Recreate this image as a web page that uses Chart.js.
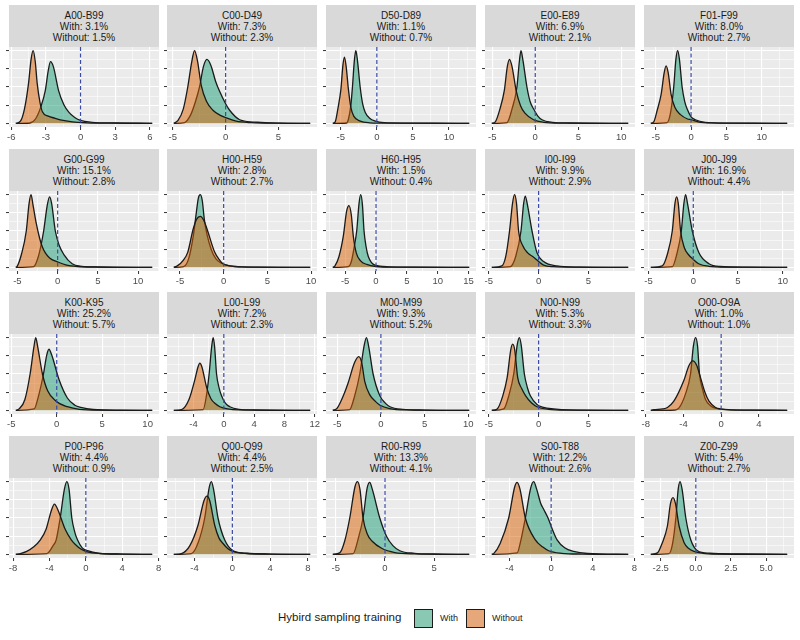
<!DOCTYPE html>
<html>
<head>
<meta charset="utf-8">
<script src="https://cdn.jsdelivr.net/npm/chart.js@4.4.1/dist/chart.umd.min.js"></script>
<style>
  body { margin: 0; width: 800px; height: 640px; background: #fff; position: relative; overflow: hidden;
         font-family: "Liberation Sans", Arial, sans-serif; }
  .strip { position: absolute; background: #D9D9D9; color: #1A1A1A; font-size: 10px; line-height: 11px;
           text-align: center; display: flex; flex-direction: column; justify-content: center; }
  .panel { position: absolute; }
  .lg-title { position: absolute; left: 278px; top: 611px; font-size: 11.5px; color: #1A1A1A; }
  .lg-key { position: absolute; top: 609px; width: 17px; height: 17px; border: 1.2px solid #1A1A1A; }
  .lg-lbl { position: absolute; top: 613px; font-size: 9px; color: #1A1A1A; }
</style>
</head>
<body>
<div id="panels"></div>
<div class="lg-title">Hybird sampling training</div>
<div class="lg-key" style="left:414px;background:#89C8B3"></div>
<div class="lg-lbl" style="left:440px">With</div>
<div class="lg-key" style="left:466px;background:#E6A77A"></div>
<div class="lg-lbl" style="left:492px">Without</div>

<script>
// ---- data (density, relative height) ----
const panelNames = ['A00-B99', 'C00-D49', 'D50-D89', 'E00-E89', 'F01-F99',
                    'G00-G99', 'H00-H59', 'H60-H95', 'I00-I99', 'J00-J99',
                    'K00-K95', 'L00-L99', 'M00-M99', 'N00-N99', 'O00-O9A',
                    'P00-P96', 'Q00-Q99', 'R00-R99', 'S00-T88', 'Z00-Z99'];
const withPct    = [3.1, 7.3, 1.1, 6.9, 8.0, 15.1, 2.8, 1.5, 9.9, 16.9,
                    25.2, 7.2, 9.3, 5.3, 1.0, 4.4, 4.4, 13.3, 12.2, 5.4];
const withoutPct = [1.5, 2.3, 0.7, 2.1, 2.7, 2.8, 2.7, 0.4, 2.9, 4.4,
                    5.7, 2.3, 5.2, 3.3, 1.0, 0.9, 2.5, 4.1, 2.6, 2.7];
const xTicks = [
  [-6, -3, 0, 3, 6], [-5, 0, 5], [-5, 0, 5, 10], [-5, 0, 5, 10], [-5, 0, 5, 10],
  [-5, 0, 5, 10], [-5, 0, 5, 10], [-5, 0, 5, 10, 15], [-5, 0, 5], [-5, 0, 5, 10],
  [-5, 0, 5, 10], [-4, 0, 4, 8, 12], [-5, 0, 5, 10], [-5, 0, 5], [-8, -4, 0, 4],
  [-8, -4, 0, 4, 8], [-4, 0, 4, 8], [-5, 0, 5], [-4, 0, 4, 8], [-2.5, 0, 2.5, 5]
];
const yGridStep = 0.25;

const withCurves = [
  [[-5.6,0],[-4.4,0.005],[-3.9,0.06],[-3.45,0.22],[-3.05,0.45],[-2.8,0.72],[-2.6,0.85],[-2.35,0.78],[-1.9,0.45],[-1.45,0.26],[-1.0,0.15],[-0.5,0.08],[0,0.04],[1.0,0.015],[3,0.005],[6.2,0]],
  [[-4.9,0],[-3.9,0.01],[-3.3,0.12],[-2.85,0.3],[-2.47,0.5],[-2.1,0.78],[-1.77,0.88],[-1.4,0.8],[-0.95,0.58],[-0.57,0.44],[0,0.27],[0.38,0.18],[1.33,0.05],[3,0.015],[5,0.004],[8,0]],
  [[-6.1,0],[-4.2,0.005],[-3.93,0.06],[-3.6,0.25],[-3.38,0.5],[-3.1,0.88],[-2.91,1.0],[-2.7,0.88],[-2.31,0.5],[-1.95,0.26],[-1.6,0.15],[-1.0,0.07],[-0.2,0.03],[1,0.01],[4,0.004],[8,0.003],[12.8,0]],
  [[-5.05,0],[-3.3,0.01],[-2.7,0.2],[-2.13,0.5],[-1.85,0.85],[-1.66,1.0],[-1.45,0.88],[-0.97,0.5],[-0.6,0.3],[-0.2,0.2],[0.3,0.1],[0.78,0.05],[2,0.015],[4,0.005],[10.8,0]],
  [[-5.7,0],[-3.4,0.01],[-2.9,0.15],[-2.46,0.5],[-2.15,0.88],[-1.9,1.0],[-1.65,0.88],[-1.27,0.5],[-0.9,0.3],[-0.57,0.2],[0,0.09],[0.6,0.05],[2,0.015],[5,0.004],[9,0.003],[13.6,0]],
  [[-5.2,0],[-3.0,0.01],[-2.4,0.15],[-1.74,0.5],[-1.3,0.85],[-1.0,0.97],[-0.75,0.88],[-0.29,0.5],[0.2,0.3],[0.75,0.18],[1.8,0.05],[3,0.015],[5,0.005],[11.75,0]],
  [[-5.7,0],[-4.6,0.01],[-4.0,0.12],[-3.45,0.45],[-3.13,0.75],[-2.9,0.95],[-2.67,1.0],[-2.45,0.92],[-2.2,0.65],[-1.9,0.45],[-1.4,0.24],[-0.9,0.12],[-0.3,0.06],[0.7,0.02],[2,0.007],[9.9,0]],
  [[-7.0,0],[-4.5,0.01],[-4.0,0.08],[-3.5,0.3],[-3.13,0.5],[-2.75,0.88],[-2.48,1.0],[-2.2,0.86],[-1.94,0.5],[-1.6,0.28],[-1.25,0.15],[-0.16,0.03],[2,0.008],[6,0.003],[15.1,0]],
  [[-4.7,0],[-2.85,0.01],[-2.3,0.15],[-1.77,0.5],[-1.5,0.88],[-1.34,0.98],[-1.15,0.88],[-0.66,0.5],[-0.16,0.2],[0.5,0.08],[1.85,0.02],[4,0.004],[9,0]],
  [[-4.75,0],[-2.35,0.01],[-1.85,0.18],[-1.34,0.5],[-1.05,0.88],[-0.86,1.0],[-0.65,0.88],[-0.11,0.5],[0.63,0.2],[1.75,0.05],[3,0.012],[6,0.004],[10.5,0]],
  [[-4.5,0],[-2.49,0.02],[-2.0,0.2],[-1.46,0.5],[-1.1,0.76],[-0.85,0.84],[-0.55,0.76],[0.26,0.42],[1.17,0.17],[2.0,0.07],[2.64,0.04],[4,0.012],[7,0.003],[10.5,0]],
  [[-6.6,0],[-2.73,0.01],[-2.3,0.2],[-1.94,0.5],[-1.6,0.88],[-1.41,1.0],[-1.22,0.88],[-0.96,0.5],[-0.6,0.3],[-0.3,0.2],[0.2,0.1],[0.79,0.05],[2,0.015],[4,0.005],[11.4,0]],
  [[-5.5,0],[-3.58,0.01],[-3.0,0.2],[-2.42,0.5],[-1.9,0.9],[-1.65,1.0],[-1.4,0.88],[-0.89,0.5],[-0.12,0.2],[0.5,0.1],[1.04,0.05],[2.5,0.015],[5,0.004],[10.1,0]],
  [[-4.7,0],[-3.5,0.02],[-3.0,0.2],[-2.5,0.5],[-2.15,0.9],[-1.93,1.0],[-1.75,0.9],[-1.43,0.5],[-1.1,0.3],[-0.83,0.2],[-0.16,0.08],[0.5,0.04],[1.5,0.02],[3,0.006],[9,0]],
  [[-7.46,0],[-4.9,0.005],[-4.49,0.03],[-3.8,0.22],[-3.25,0.5],[-2.95,0.88],[-2.72,1.0],[-2.5,0.88],[-2.3,0.5],[-1.95,0.28],[-1.66,0.15],[-1.1,0.06],[-0.6,0.03],[0.5,0.01],[3,0.004],[7,0]],
  [[-7.7,0],[-4.29,0.01],[-3.6,0.12],[-3.26,0.2],[-2.82,0.5],[-2.35,0.9],[-2.09,1.0],[-1.85,0.9],[-1.54,0.5],[-1.2,0.3],[-0.92,0.2],[-0.4,0.09],[0.18,0.05],[1.5,0.015],[4,0.004],[7.3,0]],
  [[-6.2,0],[-4.34,0.01],[-3.6,0.17],[-2.93,0.5],[-2.45,0.92],[-2.22,1.0],[-2.0,0.9],[-1.52,0.5],[-0.82,0.2],[0.07,0.05],[1.5,0.015],[4,0.004],[8.24,0]],
  [[-5.3,0],[-3.24,0.01],[-2.75,0.2],[-2.23,0.5],[-1.8,0.92],[-1.55,0.99],[-1.3,0.9],[-0.53,0.5],[0.15,0.25],[0.8,0.12],[1.5,0.05],[3,0.015],[5,0.005],[8.55,0]],
  [[-5.7,0],[-3.27,0.02],[-2.9,0.2],[-2.48,0.5],[-1.95,0.92],[-1.68,1.0],[-1.4,0.9],[-1.0,0.7],[-0.72,0.62],[-0.3,0.5],[0.1,0.35],[0.57,0.2],[1.3,0.09],[2.16,0.04],[3.5,0.012],[7.4,0]],
  [[-3.2,0],[-1.9,0.01],[-1.65,0.15],[-1.42,0.5],[-1.25,0.9],[-1.12,1.0],[-0.98,0.9],[-0.71,0.5],[-0.36,0.2],[0.12,0.05],[1,0.015],[3,0.005],[6.5,0]]
];

const withoutCurves = [
  [[-5.6,0],[-5.2,0.03],[-4.85,0.2],[-4.5,0.55],[-4.28,0.88],[-4.1,1.0],[-3.92,0.85],[-3.75,0.55],[-3.5,0.28],[-3.3,0.16],[-2.8,0.1],[-2.2,0.07],[-1.5,0.04],[-0.7,0.02],[0.5,0.008],[2,0.004],[4,0.002],[6.2,0]],
  [[-4.9,0],[-4.5,0.04],[-4.0,0.2],[-3.58,0.5],[-3.2,0.85],[-2.94,1.0],[-2.65,0.85],[-2.3,0.52],[-1.8,0.3],[-1.2,0.18],[-0.5,0.11],[0,0.08],[1,0.03],[2.5,0.01],[5,0.003],[8,0]],
  [[-6.1,0],[-5.77,0.02],[-5.4,0.2],[-4.99,0.46],[-4.7,0.8],[-4.49,0.91],[-4.25,0.78],[-3.93,0.46],[-3.6,0.22],[-3.2,0.1],[-2.3,0.03],[-1,0.008],[2,0.002],[12.8,0]],
  [[-5.05,0],[-4.65,0.02],[-4.1,0.2],[-3.6,0.45],[-3.25,0.78],[-2.99,0.88],[-2.7,0.78],[-2.2,0.44],[-1.7,0.24],[-1.2,0.14],[-0.2,0.05],[1,0.015],[3,0.004],[10.8,0]],
  [[-5.7,0],[-5.29,0.02],[-4.8,0.18],[-4.24,0.4],[-3.8,0.7],[-3.54,0.79],[-3.25,0.7],[-2.83,0.4],[-2.3,0.22],[-1.5,0.12],[-0.5,0.06],[0,0.05],[1,0.02],[3,0.006],[13.6,0]],
  [[-5.2,0],[-5.05,0.01],[-4.5,0.18],[-3.9,0.5],[-3.55,0.88],[-3.31,1.0],[-3.05,0.85],[-2.65,0.6],[-2.24,0.4],[-1.9,0.28],[-1.53,0.2],[-1.0,0.13],[0.1,0.07],[1,0.035],[2.5,0.012],[5,0.004],[11.75,0]],
  [[-5.7,0],[-5.3,0.02],[-4.6,0.1],[-4.1,0.21],[-3.5,0.52],[-3.1,0.66],[-2.67,0.7],[-2.25,0.64],[-1.8,0.49],[-1.03,0.21],[-0.46,0.1],[-0.08,0.05],[0.7,0.02],[2,0.007],[4,0.002],[9.9,0]],
  [[-7.0,0],[-6.65,0.02],[-6.0,0.15],[-5.3,0.43],[-4.75,0.78],[-4.38,0.85],[-4.0,0.72],[-3.68,0.43],[-3.2,0.2],[-2.5,0.09],[-1.5,0.04],[0,0.012],[3,0.003],[15.1,0]],
  [[-4.7,0],[-3.69,0.02],[-3.3,0.15],[-2.92,0.5],[-2.62,0.88],[-2.42,1.0],[-2.22,0.88],[-2.01,0.5],[-1.6,0.3],[-1.1,0.2],[-0.5,0.14],[0.5,0.03],[1.5,0.01],[4,0.003],[9,0]],
  [[-4.75,0],[-3.47,0.02],[-2.9,0.18],[-2.35,0.5],[-2.05,0.88],[-1.87,0.97],[-1.68,0.88],[-1.42,0.5],[-1.0,0.27],[-0.5,0.17],[-0.1,0.12],[0.6,0.05],[1.75,0.015],[4,0.004],[10.5,0]],
  [[-4.5,0],[-4.14,0.02],[-3.5,0.15],[-2.93,0.5],[-2.5,0.88],[-2.31,1.0],[-2.1,0.88],[-1.57,0.5],[-1.0,0.27],[-0.1,0.13],[1.17,0.05],[2.5,0.015],[5,0.004],[10.5,0]],
  [[-6.6,0],[-5.58,0.01],[-4.6,0.15],[-3.83,0.42],[-3.4,0.6],[-3.17,0.65],[-2.9,0.6],[-2.28,0.32],[-1.7,0.16],[-1.1,0.09],[-0.53,0.05],[0.5,0.02],[2,0.006],[11.4,0]],
  [[-5.5,0],[-5.0,0.03],[-4.3,0.2],[-3.77,0.37],[-3.0,0.66],[-2.54,0.74],[-2.2,0.66],[-1.85,0.4],[-1.3,0.22],[-0.6,0.12],[-0.1,0.07],[1,0.025],[3,0.006],[10.1,0]],
  [[-4.7,0],[-4.16,0.02],[-3.6,0.2],[-3.16,0.45],[-2.8,0.83],[-2.6,0.91],[-2.4,0.83],[-2.1,0.45],[-1.7,0.3],[-1.3,0.2],[-0.7,0.1],[-0.16,0.05],[1,0.015],[3,0.004],[9,0]],
  [[-7.46,0],[-7.14,0.01],[-6.2,0.02],[-5.7,0.04],[-5.0,0.13],[-3.96,0.41],[-3.4,0.62],[-3.0,0.68],[-2.6,0.62],[-2.19,0.45],[-1.75,0.26],[-1.31,0.13],[-0.6,0.04],[-0.07,0.02],[1,0.008],[3,0.003],[7,0]],
  [[-7.7,0],[-7.2,0.01],[-6.5,0.04],[-5.76,0.1],[-5.0,0.2],[-4.36,0.35],[-3.8,0.6],[-3.45,0.69],[-3.1,0.62],[-2.27,0.345],[-1.6,0.2],[-1.18,0.14],[-0.5,0.07],[0.18,0.035],[1.5,0.012],[4,0.004],[7.3,0]],
  [[-6.2,0],[-5.4,0.01],[-4.5,0.12],[-3.64,0.4],[-3.0,0.74],[-2.69,0.8],[-2.4,0.74],[-1.87,0.4],[-1.4,0.22],[-1.06,0.16],[-0.5,0.08],[0.07,0.04],[1.5,0.012],[4,0.004],[8.24,0]],
  [[-5.3,0],[-4.6,0.02],[-4.1,0.18],[-3.58,0.5],[-3.05,0.93],[-2.8,1.0],[-2.55,0.9],[-2.23,0.5],[-1.8,0.28],[-1.3,0.18],[-0.3,0.08],[1,0.025],[3,0.007],[8.55,0]],
  [[-5.7,0],[-5.52,0.01],[-4.9,0.15],[-4.08,0.5],[-3.5,0.93],[-3.27,0.99],[-3.0,0.9],[-2.48,0.5],[-1.52,0.2],[-0.8,0.1],[-0.24,0.05],[1,0.015],[3,0.004],[7.4,0]],
  [[-3.2,0],[-2.73,0.02],[-2.4,0.15],[-2.02,0.39],[-1.8,0.7],[-1.62,0.78],[-1.45,0.7],[-1.19,0.39],[-0.83,0.16],[-0.5,0.08],[-0.12,0.04],[0.5,0.015],[1.5,0.005],[6.5,0]]
];

// ---- styling ----
const FONT = '"Liberation Sans", Arial, sans-serif';
const WITH_FILL = 'rgba(27,158,119,0.5)';
const WITHOUT_FILL = 'rgba(217,95,2,0.5)';
const PANEL_W = 150, PANEL_H = 80, STRIP_H = 42, AXIS_H = 20, PAD = 12;

const panelBg = {
  id: 'panelBg',
  beforeDraw(c) {
    const a = c.chartArea;
    c.ctx.save();
    c.ctx.fillStyle = '#EBEBEB';
    c.ctx.fillRect(a.left, a.top, a.width, a.height);
    c.ctx.restore();
  }
};

// dashed reference line at x = 0
const zeroLine = {
  id: 'zeroLine',
  afterDatasetsDraw(c) {
    const a = c.chartArea, ctx = c.ctx;
    const x = c.scales.x.getPixelForValue(0);
    ctx.save();
    ctx.strokeStyle = '#3B4BA5';
    ctx.lineWidth = 1.2;
    ctx.setLineDash([4, 2.5]);
    ctx.beginPath();
    ctx.moveTo(x, a.top);
    ctx.lineTo(x, a.bottom);
    ctx.stroke();
    ctx.restore();
  }
};

const near = (a, b) => Math.abs(a - b) < 1e-9;

function gridValues(majors, lo, hi) {
  // ggplot style: majors plus minor lines halfway between them
  const step = majors[1] - majors[0];
  const vals = [];
  for (let v = majors[0] - step / 2; v <= hi; v += step / 2) {
    if (v >= lo) vals.push(v);
  }
  return vals;
}

function fmt(v, majors) {
  const dec = majors.some(t => !Number.isInteger(t)) ? 1 : 0;
  return v.toFixed(dec);
}

const host = document.getElementById('panels');

panelNames.forEach((name, i) => {
  const col = i % 5, row = Math.floor(i / 5);
  const left = Math.round(8.5 + col * 158.75);
  const top = Math.round(5 + row * 143.7);

  const strip = document.createElement('div');
  strip.className = 'strip';
  strip.style.cssText = `left:${left}px;top:${top}px;width:${PANEL_W}px;height:${STRIP_H}px`;
  strip.innerHTML = `<div>${name}</div><div>With: ${withPct[i].toFixed(1)}%</div>` +
                    `<div>Without: ${withoutPct[i].toFixed(1)}%</div>`;
  host.appendChild(strip);

  const wrap = document.createElement('div');
  wrap.className = 'panel';
  wrap.style.cssText = `left:${left - PAD}px;top:${top + STRIP_H}px`;
  const cv = document.createElement('canvas');
  cv.width = PANEL_W + 2 * PAD;
  cv.height = PANEL_H + AXIS_H;
  wrap.appendChild(cv);
  host.appendChild(wrap);

  const wc = withCurves[i], oc = withoutCurves[i];
  const xs = wc.concat(oc).map(p => p[0]);
  const ys = wc.concat(oc).map(p => p[1]);
  const dMin = Math.min(...xs), dMax = Math.max(...xs), yTop = Math.max(...ys);
  const xMin = dMin - 0.05 * (dMax - dMin), xMax = dMax + 0.05 * (dMax - dMin);
  const majors = xTicks[i];
  const xGrid = gridValues(majors, xMin, xMax);
  const yMajors = [];
  for (let v = 0; v <= yTop * 1.05; v += yGridStep) yMajors.push(v);
  const yGrid = gridValues(yMajors, -0.05 * yTop, 1.05 * yTop);
  const isMajorX = v => majors.some(t => near(t, v));
  const isMajorY = v => yMajors.some(t => near(t, v));

  const line = (label, pts, fillColor) => ({
    label,
    data: pts.map(([x, y]) => ({ x, y })),
    fill: 'origin',
    backgroundColor: fillColor,
    borderColor: '#1A1A1A',
    borderWidth: 1.3,
    pointRadius: 0,
    cubicInterpolationMode: 'monotone'
  });

  new Chart(cv, {
    type: 'line',
    data: {
      // first dataset is painted last, so "Without" sits over "With" as in the reference
      datasets: [line('Without', oc, WITHOUT_FILL), line('With', wc, WITH_FILL)]
    },
    options: {
      responsive: false,
      animation: false,
      layout: { padding: { left: 0, right: PAD, top: 0, bottom: 0 } },
      plugins: { legend: { display: false }, tooltip: { enabled: false } },
      scales: {
        x: {
          type: 'linear',
          min: xMin,
          max: xMax,
          afterBuildTicks: s => { s.ticks = xGrid.map(v => ({ value: v })); },
          afterFit: s => { s.height = AXIS_H; },
          border: { display: false },
          grid: {
            color: '#FFFFFF',
            lineWidth: ctx => isMajorX(ctx.tick.value) ? 1.1 : 0.55,
            drawTicks: true,
            tickLength: 3,
            tickWidth: 1,
            tickColor: ctx => isMajorX(ctx.tick.value) ? '#333333' : 'rgba(0,0,0,0)'
          },
          ticks: {
            autoSkip: false,
            maxRotation: 0,
            padding: 2,
            color: '#4D4D4D',
            font: { family: FONT, size: 9.5 },
            callback: v => isMajorX(v) ? fmt(v, majors) : ''
          }
        },
        y: {
          min: -0.05 * yTop,
          max: 1.05 * yTop,
          afterBuildTicks: s => { s.ticks = yGrid.map(v => ({ value: v })); },
          afterFit: s => { s.width = PAD; },
          border: { display: false },
          grid: {
            color: '#FFFFFF',
            lineWidth: ctx => isMajorY(ctx.tick.value) ? 1.1 : 0.55,
            drawTicks: true,
            tickLength: 3,
            tickWidth: 1,
            tickColor: ctx => isMajorY(ctx.tick.value) ? '#333333' : 'rgba(0,0,0,0)'
          },
          ticks: { display: false }
        }
      }
    },
    plugins: [panelBg, zeroLine]
  });
});
</script>
</body>
</html>
